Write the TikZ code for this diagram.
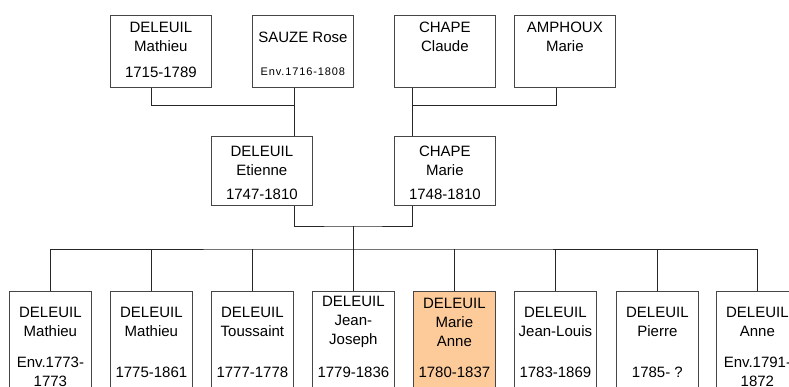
\documentclass[tikz,border=0pt]{standalone}
\usepackage{fontspec}
\setmainfont{Liberation Sans}
\newfontfamily\envfont[LetterSpace=8]{Liberation Sans}
\usepackage{tikz}
\usetikzlibrary{positioning, calc}
\definecolor{peach}{RGB}{253,203,154}
\definecolor{boxgray}{RGB}{70,70,70}

\begin{document}
\begin{tikzpicture}[x=1pt, y=1pt]
\clip (0,0) rectangle (789,-387);
\tikzstyle{pbox}=[rectangle, draw=boxgray, line width=0.8pt, anchor=north west, inner sep=0pt, minimum width=101pt, minimum height=72pt]
\tikzstyle{cbox}=[pbox, minimum width=82pt, minimum height=110pt]
\tikzstyle{taskn}=[anchor=center, align=center, inner sep=0pt, text=black, font=\fontsize{15}{19}\selectfont]
\tikzstyle{taske}=[taskn, font=\envfont\fontsize{11}{13}\selectfont]
\tikzstyle{link}=[draw=black!85, line width=0.7pt]
%% grandparents
\node (p01) at (110,-15) [pbox] {};
\node (p02) at (252,-15) [pbox] {};
\node (p03) at (394,-15) [pbox] {};
\node (p04) at (514,-15) [pbox] {};
%% parents
\node (p05) at (211,-136) [pbox, minimum height=69pt] {};
\node (p06) at (394,-136) [pbox, minimum height=69pt] {};
%% children
\node (c1) at (9,-291) [cbox] {};
\node (c2) at (110,-291) [cbox] {};
\node (c3) at (211,-291) [cbox] {};
\node (c4) at (312,-291) [cbox] {};
\node (c5) at (413,-291) [cbox, fill=peach] {};
\node (c6) at (514,-291) [cbox] {};
\node (c7) at (616,-291) [cbox] {};
\node (c8) at (716,-291) [cbox] {};

\node [below=22pt of p01.north, taskn](n01) {DELEUIL\\Mathieu};
\node [below=57pt of p01.north, taskn](d01) {1715-1789};
\node [below=22pt of p02.north, taskn](n02) {SAUZE Rose};
\node [below=57pt of p02.north, taske](d02) {Env.1716-1808};
\node [below=22pt of p03.north, taskn](n03) {CHAPE\\Claude};
\node [below=22pt of p04.north, taskn](n04) {AMPHOUX\\Marie};

\node [below=25pt of p05.north, taskn](n05) {DELEUIL\\Etienne};
\node [below=58pt of p05.north, taskn](d05) {1747-1810};
\node [below=25pt of p06.north, taskn](n06) {CHAPE\\Marie};
\node [below=58pt of p06.north, taskn](d06) {1748-1810};

\node [below=31pt of c1.north, taskn](m1) {DELEUIL\\Mathieu};
\node [below=81pt of c1.north, taskn](e1) {Env.1773-\\1773};
\node [below=31pt of c2.north, taskn](m2) {DELEUIL\\Mathieu};
\node [below=81pt of c2.north, taskn](e2) {1775-1861};
\node [below=31pt of c3.north, taskn](m3) {DELEUIL\\Toussaint};
\node [below=81pt of c3.north, taskn](e3) {1777-1778};
\node [below=31pt of c4.north, taskn](m4) {DELEUIL\\Jean-\\Joseph};
\node [below=81pt of c4.north, taskn](e4) {1779-1836};
\node [below=31pt of c5.north, taskn](m5) {DELEUIL\\Marie\\Anne};
\node [below=81pt of c5.north, taskn](e5) {1780-1837};
\node [below=31pt of c6.north, taskn](m6) {DELEUIL\\Jean-Louis};
\node [below=81pt of c6.north, taskn](e6) {1783-1869};
\node [below=31pt of c7.north, taskn](m7) {DELEUIL\\Pierre};
\node [below=81pt of c7.north, taskn](e7) {1785- ?};
\node [below=31pt of c8.north, taskn](m8) {DELEUIL\\Anne};
\node [below=81pt of c8.north, taskn](e8) {Env.1791-\\1872};

\coordinate (j1) at (294,-105);
\coordinate (j2) at (412,-105);
\coordinate (j3) at (353,-226);
\coordinate (j4) at (353,-249);

\draw [link] ([xshift=-9.5pt]p01.south) |- (j1);
\draw [link] (p02.south -| j1) -- (p05.north -| j1);
\draw [link] ([xshift=-9pt]p04.south) |- (j2);
\draw [link] (p03.south -| j2) -- (p06.north -| j2);
\draw [link] (p05.south -| j1) |- (j3) -| (p06.south -| j2);
\draw [link] (j3) -- (j4);

\draw [link] (c1.north) |- (j4) -| (c8.north);
\draw [link] (c2.north) -- (c2.north |- j4);
\draw [link] (c3.north) -- (c3.north |- j4);
\draw [link] (c4.north) -- (c4.north |- j4);
\draw [link] (c5.north) -- (c5.north |- j4);
\draw [link] (c6.north) -- (c6.north |- j4);
\draw [link] (c7.north) -- (c7.north |- j4);
\end{tikzpicture}
\end{document}
